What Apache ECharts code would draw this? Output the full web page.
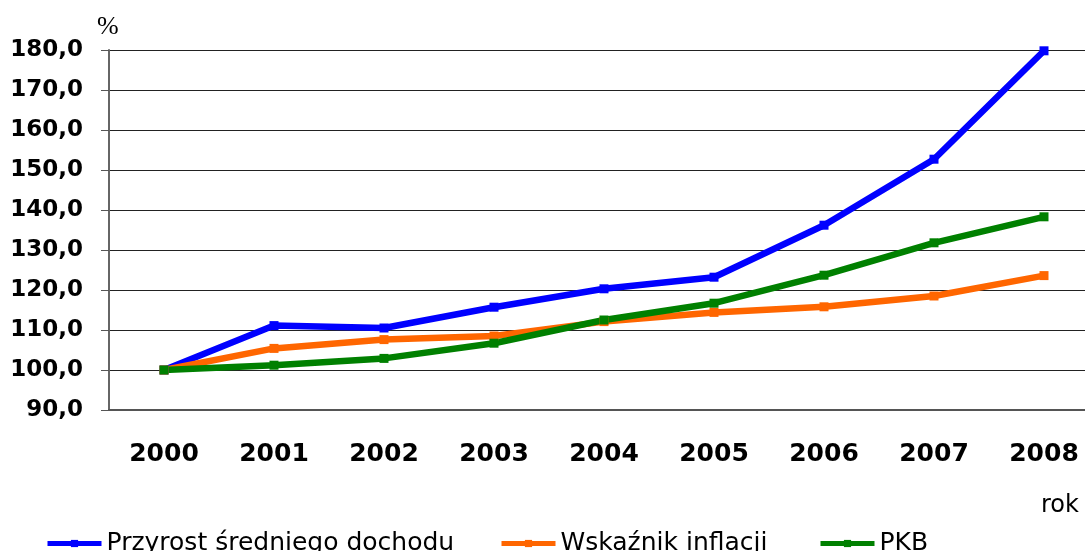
<!DOCTYPE html>
<html>
<head>
<meta charset="utf-8">
<script src="https://cdn.jsdelivr.net/npm/echarts@6/dist/echarts.min.js"></script>
<style>
  html, body { margin: 0; padding: 0; background: #fff; overflow: hidden; }
  #chart { width: 1099px; height: 551px; }
</style>
</head>
<body>
<div id="chart"></div>
<script>
  const years = ['2000', '2001', '2002', '2003', '2004', '2005', '2006', '2007', '2008']
  const dochod = [100.0, 111.1, 110.5, 115.7, 120.3, 123.2, 136.2, 152.7, 179.8]
  const inflacja = [100.0, 105.4, 107.6, 108.5, 112.1, 114.4, 115.8, 118.5, 123.6]
  const pkb = [100.0, 101.2, 102.9, 106.7, 112.5, 116.7, 123.7, 131.8, 138.3]
  const names = ['Przyrost średniego dochodu', 'Wskaźnik inflacji', 'PKB']
  const colors = ['#0000ff', '#ff6600', '#008000']

  const myChart = echarts.init(document.getElementById('chart'))

  // one legend per item, the gaps in the original are not even
  const legendBase = {
    top: 531,
    padding: 0,
    itemWidth: 54,
    itemHeight: 9,
    itemGap: 0,
    lineStyle: { width: 5 },
    textStyle: { fontFamily: 'DejaVu Sans', fontSize: 25, color: '#000' }
  }

  function makeSeries(name, data, color) {
    return {
      name,
      type: 'line',
      data,
      symbol: 'rect',
      symbolSize: 9,
      lineStyle: { width: 6.5, color },
      itemStyle: { color },
      animation: false
    }
  }

  const option = {
    animation: false,
    color: colors,
    grid: { left: 109, top: 50, right: 0, bottom: 141 },
    legend: [
      { ...legendBase, left: 45, data: [names[0]] },
      { ...legendBase, left: 499, data: [names[1]] },
      { ...legendBase, left: 818, data: [names[2]] }
    ],
    graphic: [
      { type: 'text', left: 97, top: 14, style: { text: '%', font: '26px "Liberation Serif"', fill: '#000' } },
      { type: 'text', left: 1041, top: 494, style: { text: 'rok', font: '24px "DejaVu Sans"', fill: '#000' } }
    ],
    xAxis: {
      type: 'category',
      data: years,
      boundaryGap: true,
      axisLine: { lineStyle: { color: '#555', width: 2 } },
      axisTick: { length: 8, lineStyle: { color: '#555' } },
      axisLabel: { margin: 32, fontFamily: 'DejaVu Sans', fontWeight: 'bold', fontSize: 25, color: '#000', interval: 0 }
    },
    yAxis: {
      type: 'value',
      min: 90,
      max: 180,
      interval: 10,
      axisLine: { show: true, lineStyle: { color: '#666', width: 2 } },
      axisTick: { show: true, length: 8, lineStyle: { color: '#555' } },
      splitLine: { lineStyle: { color: '#222', width: 1 } },
      axisLabel: {
        margin: 26,
        fontFamily: 'DejaVu Sans',
        fontWeight: 'bold',
        fontSize: 23,
        color: '#000',
        formatter: v => v.toFixed(1).replace('.', ',')
      }
    },
    series: [
      makeSeries(names[0], dochod, colors[0]),
      makeSeries(names[1], inflacja, colors[1]),
      makeSeries(names[2], pkb, colors[2])
    ]
  }

  myChart.setOption(option)
</script>
</body>
</html>
